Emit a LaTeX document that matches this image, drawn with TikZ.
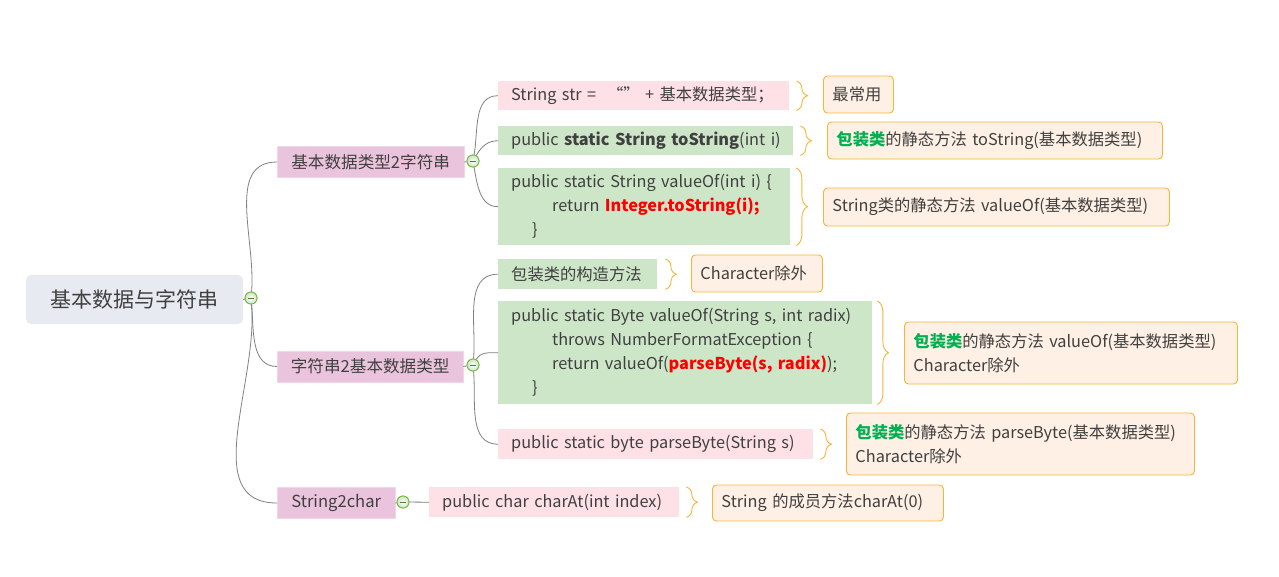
\documentclass[tikz,border=0pt]{standalone}
\usepackage{fontspec}
\setmainfont{Noto Sans CJK SC}
\usepackage{xcolor}
\usepackage{tikz}
\usetikzlibrary{decorations.pathreplacing}
\definecolor{ink}{HTML}{404040}
\definecolor{wire}{HTML}{808080}
\definecolor{rootbg}{HTML}{E8EAF2}
\definecolor{topicbg}{HTML}{EAC4DC}
\definecolor{pinkbg}{HTML}{FDE1E6}
\definecolor{greenbg}{HTML}{CDE6C8}
\definecolor{notebg}{HTML}{FEF0E4}
\definecolor{brcol}{HTML}{F7B536}
\definecolor{knobcol}{HTML}{72B545}
\definecolor{hot}{HTML}{FF0000}
\definecolor{wrapcol}{HTML}{00B050}
\newcommand{\hot}[1]{\textbf{\textcolor{hot}{#1}}}
\newcommand{\wrapc}{\textbf{\textcolor{wrapcol}{包装类}}}
\tikzset{
  rootbox/.style={fill=rootbg, rounded corners=5pt, text=ink,
    font=\fontsize{21}{24}\selectfont, minimum width=217pt, minimum height=49pt},
  topic/.style={fill=topicbg, draw=topicbg!70!white, anchor=west, text=ink,
    font=\fontsize{16.6}{24}\selectfont, minimum height=31pt, inner sep=0pt},
  leaf/.style={anchor=north west, align=left, text=ink, inner xsep=13pt, inner ysep=0pt,
    font=\fontsize{16.3}{24}\selectfont},
  pinkleaf/.style={leaf, fill=pinkbg},
  greenleaf/.style={leaf, fill=greenbg},
  note/.style={draw=brcol, fill=notebg, line width=0.9pt, rounded corners=4pt, anchor=west,
    align=left, text=ink, inner xsep=9pt, inner ysep=0pt, font=\fontsize{16.3}{24}\selectfont},
  knob/.style={circle, draw=knobcol, line width=0.8pt, inner sep=0pt, minimum size=12pt,
    inner color=white, outer color=knobcol!35,
    path picture={\draw[knobcol!70!black, line width=1pt]
      ([xshift=-3pt]path picture bounding box.center) -- ([xshift=3pt]path picture bounding box.center);}},
  link/.style={draw=wire, line width=0.8pt},
  brc/.style={draw=brcol, line width=0.9pt, decorate, decoration={brace, amplitude=11pt}}
}
\begin{document}
\begin{tikzpicture}[x=1pt, y=1pt]
  \useasboundingbox[fill=white] (0,0) rectangle (1279,-576);

  \node[rootbox] (root) at (134.5,-299.5) {基本数据与字符串};
  \node[topic, minimum width=187pt] (tostr) at (277,-162) {基本数据类型2字符串};
  \node[topic, minimum width=186pt] (fromstr) at (277,-366.5) {字符串2基本数据类型};
  \node[topic, minimum width=118pt] (tochar) at (277,-503) {String2char};

  % basic type -> String
  \node[pinkleaf, text width=265pt, minimum height=29pt] (concat) at (498,-81)
    {\mbox{String str =\ \ “”\ + 基本数据类型；}};
  \node[greenleaf, text width=269pt, minimum height=29pt] (tostring) at (498,-126)
    {\mbox{public \textbf{static String toString}(int i)}};
  \node[greenleaf, text width=266pt, minimum height=77pt] (valueofstr) at (498,-168)
    {public static String valueOf(int i) \{\\
     \hspace*{41pt}return \hot{Integer.toString(i);}\\
     \hspace*{21pt}\}};

  % String -> basic type
  \node[greenleaf, text width=133pt, minimum height=30pt] (ctor) at (498,-259) {包装类的构造方法};
  \node[greenleaf, text width=348pt, minimum height=103pt] (valueofbyte) at (498,-301)
    {public static Byte valueOf(String s, int radix)\\
     \hspace*{41pt}throws NumberFormatException \{\\
     \hspace*{41pt}return valueOf(\hot{parseByte(s, radix)});\\
     \hspace*{21pt}\}};
  \node[pinkleaf, text width=289pt, minimum height=30pt] (parsebyte) at (498,-429)
    {public static byte parseByte(String s)};

  % String -> char
  \node[pinkleaf, text width=224pt, minimum height=30pt] (charat) at (429,-487)
    {public char charAt(int index)};

  \node[note, text width=52pt, minimum height=37pt] (n1) at (823,-94.5) {最常用};
  \node[note, text width=317pt, minimum height=37pt] (n2) at (827,-140.5)
    {\wrapc 的静态方法 toString(基本数据类型)};
  \node[note, text width=328pt, minimum height=38pt] (n3) at (823,-207)
    {String类的静态方法 valueOf(基本数据类型)};
  \node[note, text width=113pt, minimum height=37pt] (n4) at (691,-273.5) {Character除外};
  \node[note, text width=315pt, minimum height=62pt] (n5) at (904,-353)
    {\wrapc 的静态方法 valueOf(基本数据类型)\\Character除外};
  \node[note, text width=330pt, minimum height=62pt] (n6) at (846,-444)
    {\wrapc 的静态方法 parseByte(基本数据类型)\\Character除外};
  \node[note, text width=213pt, minimum height=36pt] (n7) at (712,-503)
    {String 的成员方法charAt(0)};

  \node[knob] (rootdot) at (251,-298) {};
  \node[knob] (tostrdot) at (473,-161) {};
  \node[knob] (fromstrdot) at (473,-365) {};
  \node[knob] (tochardot) at (403,-502) {};

  \draw[link] (root.east) -- (rootdot);
  \draw[link] (tostr.east) -- (tostrdot);
  \draw[link] (fromstr.east) -- (fromstrdot);
  \draw[link] (tochar.east) -- (tochardot);

  \draw[link] (rootdot) to[out=85, in=180] (tostr.west);
  \draw[link] (rootdot) to[out=-85, in=180] (fromstr.west);
  \draw[link] (rootdot) to[out=-85, in=180] (tochar.west);

  \draw[link] (tostrdot) to[out=80, in=180] (concat.west);
  \draw[link] (tostrdot) to[out=60, in=180] (tostring.west);
  \draw[link] (tostrdot) to[out=-80, in=180] (valueofstr.west);

  \draw[link] (fromstrdot) to[out=85, in=180] (ctor.west);
  \draw[link] (fromstrdot) to[out=60, in=180] (valueofbyte.west);
  \draw[link] (fromstrdot) to[out=-85, in=180] (parsebyte.west);

  \draw[link] (tochardot) -- (charat.west);

  % knobs on top of the wires
  \foreach \k in {rootdot, tostrdot, fromstrdot, tochardot}
    \node[knob] at (\k) {};

  \draw[brc] ([xshift=7pt]concat.north east) -- ([xshift=7pt]concat.south east);
  \draw[brc] ([xshift=7pt]tostring.north east) -- ([xshift=7pt]tostring.south east);
  \draw[brc] ([xshift=6pt]valueofstr.north east) -- ([xshift=6pt]valueofstr.south east);
  \draw[brc] ([xshift=8pt]ctor.north east) -- ([xshift=8pt]ctor.south east);
  \draw[brc] ([xshift=5pt]valueofbyte.north east) -- ([xshift=5pt]valueofbyte.south east);
  \draw[brc] ([xshift=7pt]parsebyte.north east) -- ([xshift=7pt]parsebyte.south east);
  \draw[brc] ([xshift=7pt]charat.north east) -- ([xshift=7pt]charat.south east);
\end{tikzpicture}
\end{document}
